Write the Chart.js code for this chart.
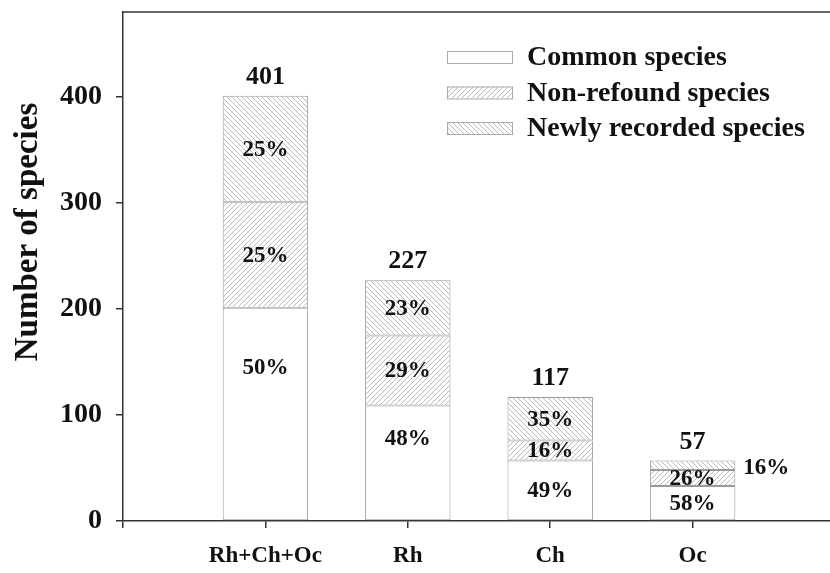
<!DOCTYPE html>
<html>
<head>
<meta charset="utf-8">
<script src="https://cdn.jsdelivr.net/npm/chart.js@4.4.0/dist/chart.umd.min.js"></script>
<style>
  html, body { margin: 0; padding: 0; background: #fff; overflow: hidden; }
  #wrap { width: 835px; height: 573px; }
</style>
</head>
<body>
<div id="wrap"><canvas id="speciesChart"></canvas></div>
<script>
const categories = ['Rh+Ch+Oc', 'Rh', 'Ch', 'Oc'];
const commonSpecies = [201, 109, 57, 33];
const nonRefound = [100, 66, 19, 15];
const newlyRecorded = [100, 52, 41, 9];
const totals = [401, 227, 117, 57];
const yTicks = [0, 100, 200, 300, 400];

const SERIF = '"Liberation Serif", "Times New Roman", serif';
const hatchColor = '#a8a8a8';

// hatch fill, dir 1 = "////", dir -1 = "\\\\"
function makeHatch(dir) {
    const s = 5;
    const c = document.createElement('canvas');
    c.width = s; c.height = s;
    const g = c.getContext('2d');
    g.fillStyle = '#fff';
    g.fillRect(0, 0, s, s);
    g.strokeStyle = hatchColor;
    g.lineWidth = 0.8;
    g.beginPath();
    if (dir > 0) {
        g.moveTo(-1, s + 1); g.lineTo(s + 1, -1);
        g.moveTo(-1, 1); g.lineTo(1, -1);
        g.moveTo(s - 1, s + 1); g.lineTo(s + 1, s - 1);
    } else {
        g.moveTo(-1, -1); g.lineTo(s + 1, s + 1);
        g.moveTo(s - 1, -1); g.lineTo(s + 1, 1);
        g.moveTo(-1, s - 1); g.lineTo(1, s + 1);
    }
    g.stroke();
    return document.getElementById('speciesChart').getContext('2d').createPattern(c, 'repeat');
}

const fwdHatch = makeHatch(1);
const backHatch = makeHatch(-1);

// pad with empty slots so bars sit on the ticks like the original
const pad = arr => [null, ...arr, null];
const labels = ['', ...categories, ''];

const barLabels = {
    id: 'barLabels',
    afterDatasetsDraw(chart) {
        const ctx = chart.ctx;
        ctx.save();
        ctx.fillStyle = '#111';
        ctx.textBaseline = 'middle';
        ctx.font = 'bold 23px ' + SERIF;
        chart.data.datasets.forEach((ds, i) => {
            const meta = chart.getDatasetMeta(i);
            meta.data.forEach((bar, j) => {
                const v = ds.data[j];
                if (v == null) return;
                const total = totals[j - 1];
                const txt = Math.round(v / total * 100) + '%';
                const h = bar.base - bar.y;
                let y = bar.y + h / 2;
                let x = bar.x;
                ctx.textAlign = 'center';
                if (i === 0) {
                    y = bar.y + Math.max(h * 0.28, Math.min(h / 2, 30));
                } else if (h < 14) {
                    x = bar.x + bar.width / 2 + 8;
                    ctx.textAlign = 'left';
                    y = bar.y + h / 2 + 2;
                }
                ctx.fillText(txt, x, y + 1);
            });
        });
        // totals on top
        const topMeta = chart.getDatasetMeta(2);
        ctx.font = 'bold 26px ' + SERIF;
        ctx.textAlign = 'center';
        ctx.textBaseline = 'alphabetic';
        topMeta.data.forEach((bar, j) => {
            if (chart.data.datasets[2].data[j] == null) return;
            ctx.fillText(String(totals[j - 1]), bar.x, bar.y - 12);
        });
        ctx.restore();
    }
};

const frameAndLegend = {
    id: 'frameAndLegend',
    afterDraw(chart) {
        const ctx = chart.ctx;
        const a = chart.chartArea;
        ctx.save();
        // top frame line
        ctx.strokeStyle = '#333';
        ctx.lineWidth = 1.5;
        ctx.beginPath();
        ctx.moveTo(a.left, a.top);
        ctx.lineTo(chart.width, a.top);
        ctx.stroke();

        // y title
        ctx.fillStyle = '#111';
        ctx.font = 'bold 33px ' + SERIF;
        ctx.textAlign = 'center';
        ctx.textBaseline = 'middle';
        ctx.translate(28, 232);
        ctx.rotate(-Math.PI / 2);
        ctx.fillText('Number of species', 0, 0);
        ctx.restore();

        // legend
        ctx.save();
        const items = [
            { text: 'Common species', fill: '#fff' },
            { text: 'Non-refound species', fill: fwdHatch },
            { text: 'Newly recorded species', fill: backHatch }
        ];
        ctx.font = 'bold 28px ' + SERIF;
        ctx.textBaseline = 'middle';
        ctx.textAlign = 'left';
        items.forEach((it, k) => {
            const cy = 57 + k * 35.5;
            ctx.fillStyle = it.fill;
            ctx.fillRect(447, cy - 6, 65, 12);
            ctx.strokeStyle = '#aaa';
            ctx.lineWidth = 1;
            ctx.strokeRect(447.5, cy - 5.5, 65, 12);
            ctx.fillStyle = '#111';
            ctx.fillText(it.text, 527, cy + 1);
        });
        ctx.restore();
    }
};

new Chart(document.getElementById('speciesChart'), {
    type: 'bar',
    data: {
        labels: labels,
        datasets: [
            { label: 'Common species', data: pad(commonSpecies), backgroundColor: '#fff' },
            { label: 'Non-refound species', data: pad(nonRefound), backgroundColor: fwdHatch },
            { label: 'Newly recorded species', data: pad(newlyRecorded), backgroundColor: backHatch }
        ].map(d => Object.assign(d, {
            borderColor: '#9a9a9a',
            borderWidth: 1,
            borderSkipped: false,
            categoryPercentage: 0.6,
            barPercentage: 1
        }))
    },
    options: {
        responsive: true,
        maintainAspectRatio: false,
        animation: false,
        layout: { padding: { top: 12, left: 0, right: 0, bottom: 0 } },
        plugins: {
            legend: { display: false },
            tooltip: { enabled: false }
        },
        scales: {
            x: {
                stacked: true,
                offset: false,
                afterFit: s => { s.height = 52; s.paddingLeft = 0; s.paddingRight = 0; },
                grid: { display: true, drawOnChartArea: false, offset: false, tickLength: 7, color: '#333', lineWidth: 1.5 },
                border: { display: true, color: '#333', width: 1.5 },
                ticks: {
                    color: '#111',
                    font: { family: SERIF, size: 23, weight: 'bold' },
                    padding: 14,
                    maxRotation: 0,
                    autoSkip: false
                }
            },
            y: {
                stacked: true,
                min: 0,
                max: 480,
                afterFit: s => { s.width = 123; s.paddingTop = 0; s.paddingBottom = 0; },
                afterBuildTicks: s => { s.ticks = yTicks.map(v => ({ value: v })); },
                grid: { display: true, drawOnChartArea: false, tickLength: 7, color: '#333', lineWidth: 1.5 },
                border: { display: true, color: '#333', width: 1.5 },
                ticks: {
                    color: '#111',
                    font: { family: SERIF, size: 28, weight: 'bold' },
                    padding: 14
                }
            }
        }
    },
    plugins: [barLabels, frameAndLegend]
});
</script>
</body>
</html>
